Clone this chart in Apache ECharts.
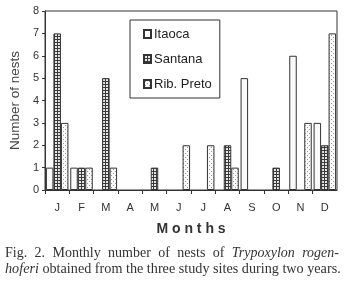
<!DOCTYPE html>
<html>
<head>
<meta charset="utf-8">
<script src="https://cdn.jsdelivr.net/npm/echarts@6/dist/echarts.min.js"></script>
<style>
  html, body { margin: 0; padding: 0; background: #fff; }
  #chart { width: 344px; height: 286px; }
</style>
</head>
<body>
<div id="chart"></div>
<script>
// month letters along the x axis
const months = ["J", "F", "M", "A", "M", "J", "J", "A", "S", "O", "N", "D"];
// nests per month, one list for each site
const itaoca = [1, 1, 0, 0, 0, 0, 0, 0, 5, 0, 6, 3];
const santana = [7, 1, 5, 0, 1, 0, 0, 2, 0, 1, 0, 2];
const ribPreto = [3, 1, 1, 0, 0, 2, 2, 1, 0, 0, 3, 7];
const yTicks = [0, 1, 2, 3, 4, 5, 6, 7, 8];

const ink = "#333";

// small fill patterns, like the printed hatching
function makePattern(size, draw) {
  const c = document.createElement("canvas");
  c.width = size;
  c.height = size;
  const ctx = c.getContext("2d");
  draw(ctx);
  return { image: c, repeat: "repeat" };
}

const gridFill = makePattern(3, (ctx) => {
  ctx.fillStyle = "#e6e6e6";
  ctx.fillRect(0, 0, 3, 3);
  ctx.fillStyle = "#3a3a3a";
  ctx.fillRect(0, 0, 3, 1);
  ctx.fillRect(0, 0, 1, 3);
});

const dotFill = makePattern(4, (ctx) => {
  ctx.fillStyle = "#fafafa";
  ctx.fillRect(0, 0, 4, 4);
  ctx.fillStyle = "#999";
  ctx.fillRect(1, 1, 1, 1);
  ctx.fillRect(3, 3, 1, 1);
});

// caption first line, spread out like justified print
const captionWords = [
  ["Fig.", false], ["2.", false], ["Monthly", false], ["number", false], ["of", false],
  ["nests", false], ["of", false], ["Trypoxylon", true], ["rogen-", true],
];
const measureCtx = document.createElement("canvas").getContext("2d");
const captionFont = (italic) => (italic ? "italic " : "") + "14px 'Liberation Serif'";
const wordWidths = captionWords.map(([w, it]) => {
  measureCtx.font = captionFont(it);
  return measureCtx.measureText(w).width;
});
const lineLeft = 5;
const lineRight = 339;
const gap = (lineRight - lineLeft - wordWidths.reduce((a, b) => a + b, 0)) / (captionWords.length - 1);
let cursor = lineLeft;
const captionLine1 = captionWords.map(([w, it], i) => {
  const el = {
    type: "text",
    x: cursor,
    y: 246,
    style: { text: w, fill: "#333", font: captionFont(it) },
  };
  cursor += wordWidths[i] + gap;
  return el;
});

const myChart = echarts.init(document.getElementById("chart"));

const barBase = {
  type: "bar",
  barWidth: 7.5,
  barGap: "0%",
  animation: false,
};

const options = {
  backgroundColor: "#fff",
  animation: false,
  grid: {
    left: 39,
    right: 7,
    top: 11,
    bottom: 96,
    show: true,
    borderColor: ink,
    borderWidth: 1,
  },
  legend: {
    orient: "vertical",
    left: 130,
    top: 20,
    padding: [7, 8, 7, 13],
    itemGap: 11,
    itemWidth: 7,
    itemHeight: 8,
    icon: "rect",
    borderColor: ink,
    borderWidth: 1,
    textStyle: {
      color: "#222",
      fontFamily: "Liberation Sans",
      fontSize: 13,
      lineHeight: 14,
      padding: [0, 0, 0, -2],
    },
    data: ["Itaoca", "Santana", "Rib. Preto"],
  },
  xAxis: {
    type: "category",
    data: months,
    name: "M o n t h s",
    nameLocation: "middle",
    nameGap: 32,
    nameTextStyle: {
      color: "#333",
      fontFamily: "Liberation Sans",
      fontWeight: "bold",
      fontSize: 14,
    },
    axisLine: { lineStyle: { color: ink } },
    axisTick: { show: true, length: 4, lineStyle: { color: ink } },
    axisLabel: {
      color: "#333",
      fontFamily: "Liberation Sans",
      fontSize: 11,
      margin: 12,
    },
  },
  yAxis: {
    type: "value",
    min: 0,
    max: 8,
    interval: 1,
    name: "Number of nests",
    nameLocation: "middle",
    nameRotate: 90,
    nameGap: 17,
    nameTextStyle: {
      color: "#444",
      fontFamily: "Liberation Sans",
      fontSize: 13.5,
    },
    axisLine: { show: true, lineStyle: { color: ink } },
    axisTick: { show: true, length: 3, lineStyle: { color: ink } },
    splitLine: { show: false },
    axisLabel: {
      color: "#333",
      fontFamily: "Liberation Sans",
      fontSize: 11,
      margin: 6,
      formatter: (v) => (yTicks.includes(v) ? String(v) : ""),
    },
  },
  graphic: [
    ...captionLine1,
    {
      type: "text",
      left: 5,
      top: 262,
      style: {
        text: "{i|hoferi} obtained from the three study sites during two years.",
        fill: "#333",
        font: "14.2px 'Liberation Serif'",
        rich: {
          i: { fontStyle: "italic", fontFamily: "Liberation Serif", fontSize: 14.2, fill: "#333" },
        },
      },
    },
  ],
  series: [
    {
      ...barBase,
      name: "Itaoca",
      data: itaoca.map((v) => (v === 0 ? "-" : v)),
      itemStyle: { color: "#fafafa", borderColor: ink, borderWidth: 1 },
    },
    {
      ...barBase,
      name: "Santana",
      data: santana.map((v) => (v === 0 ? "-" : v)),
      itemStyle: { color: gridFill, borderColor: ink, borderWidth: 1 },
    },
    {
      ...barBase,
      name: "Rib. Preto",
      data: ribPreto.map((v) => (v === 0 ? "-" : v)),
      itemStyle: { color: dotFill, borderColor: ink, borderWidth: 1 },
    },
  ],
};

myChart.setOption(options);
</script>
</body>
</html>
